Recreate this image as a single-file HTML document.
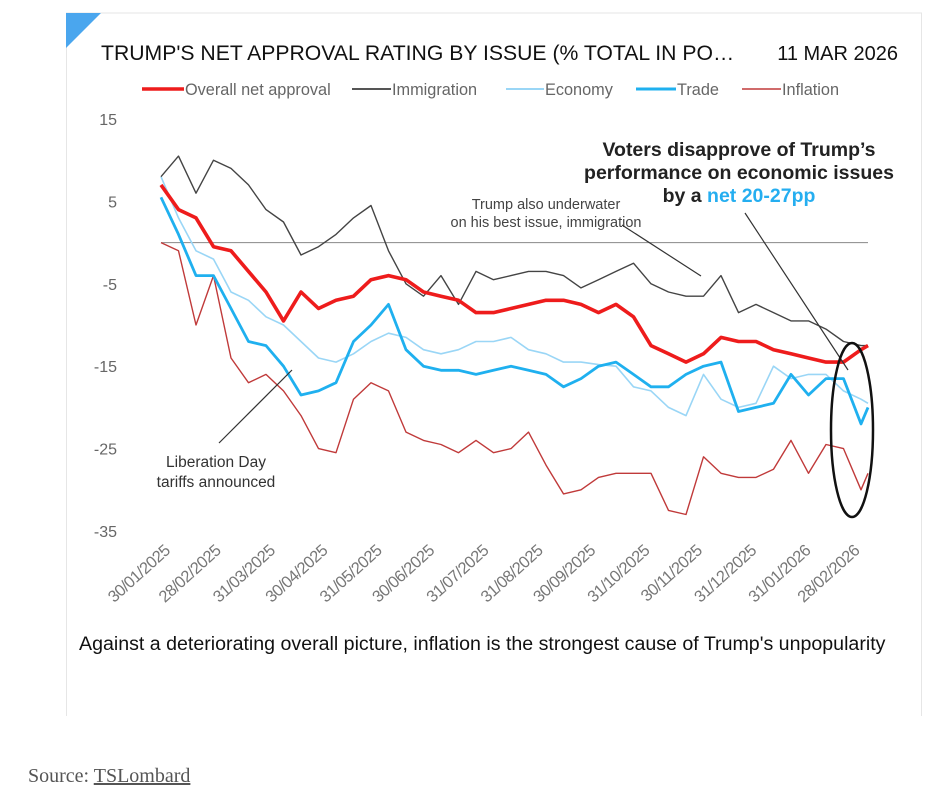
<!DOCTYPE html>
<html><head><meta charset="utf-8"><style>
body{margin:0;background:#fff;width:952px;height:792px;overflow:hidden;font-family:"Liberation Sans",sans-serif;}
</style></head><body>
<svg width="952" height="792" viewBox="0 0 952 792">
<line x1="66" y1="13" x2="922" y2="13" stroke="#e6e6e6"/>
<line x1="66.5" y1="13" x2="66.5" y2="716" stroke="#e6e6e6"/>
<line x1="921.5" y1="13" x2="921.5" y2="716" stroke="#e6e6e6"/>
<polygon points="66,13 101,13 66,48" fill="#4aa6ee"/>
<text x="101" y="60" font-size="21.2" fill="#111">TRUMP'S NET APPROVAL RATING BY ISSUE (% TOTAL IN PO…</text>
<text x="898" y="60" font-size="20" fill="#111" text-anchor="end">11 MAR 2026</text>
<g font-size="16.3" fill="#666">
<line x1="142" y1="89" x2="184" y2="89" stroke="#ee1c1c" stroke-width="3.5"/>
<text x="185" y="95">Overall net approval</text>
<line x1="352" y1="89" x2="391" y2="89" stroke="#555" stroke-width="2"/>
<text x="392" y="95">Immigration</text>
<line x1="506" y1="89" x2="544" y2="89" stroke="#9ad6f6" stroke-width="2"/>
<text x="545" y="95">Economy</text>
<line x1="636" y1="89" x2="676" y2="89" stroke="#1fb0ef" stroke-width="3"/>
<text x="677" y="95">Trade</text>
<line x1="742" y1="89" x2="781" y2="89" stroke="#c03a3a" stroke-width="1.6"/>
<text x="782" y="95">Inflation</text>
</g>
<g id="yaxis" font-size="16" fill="#666" text-anchor="end"></g>
<g id="xaxis" font-size="16.5" fill="#777"></g>
<line id="zeroline" stroke="#888" stroke-width="1"/>
<g id="series"></g>
<g>
<text x="546" y="209" font-size="14.5" fill="#444" text-anchor="middle">Trump also underwater</text>
<text x="546" y="227" font-size="14.5" fill="#444" text-anchor="middle">on his best issue, immigration</text>
<line x1="622" y1="225" x2="701" y2="276" stroke="#333" stroke-width="1.2"/>
<text x="739" y="156" font-size="19.5" font-weight="bold" fill="#222" text-anchor="middle">Voters disapprove of Trump’s</text>
<text x="739" y="179" font-size="19.5" font-weight="bold" fill="#222" text-anchor="middle">performance on economic issues</text>
<text x="739" y="202" font-size="19.5" font-weight="bold" fill="#222" text-anchor="middle">by a <tspan fill="#25aef0">net 20-27pp</tspan></text>
<line x1="745" y1="213" x2="848" y2="370" stroke="#333" stroke-width="1.2"/>
<ellipse cx="852" cy="430" rx="21" ry="87" fill="none" stroke="#111" stroke-width="2.5"/>
<text x="216" y="467" font-size="15.5" fill="#333" text-anchor="middle">Liberation Day</text>
<text x="216" y="487" font-size="15.5" fill="#333" text-anchor="middle">tariffs announced</text>
<line x1="219" y1="443" x2="292" y2="370" stroke="#333" stroke-width="1.2"/>
</g>
<text x="79" y="650" font-size="19.6" fill="#111">Against a deteriorating overall picture, inflation is the strongest cause of Trump's unpopularity</text>
<text x="28" y="782" font-size="20" fill="#555" font-family="Liberation Serif, serif">Source: <tspan text-decoration="underline">TSLombard</tspan></text>
</svg>
<script>
const days = [0,10,20,30,40,50,60,70,80,90,100,110,120,130,140,150,160,170,180,190,200,210,220,230,240,250,260,270,280,290,300,310,320,330,340,350,360,370,380,390,400,404];
const overall = [7,4,3,-0.5,-1,-3.5,-6,-9.5,-6,-8,-7,-6.5,-4.5,-4,-4.5,-6,-6.5,-7,-8.5,-8.5,-8,-7.5,-7,-7,-7.5,-8.5,-7.5,-9,-12.5,-13.5,-14.5,-13.5,-11.5,-12,-12,-13,-13.5,-14,-14.5,-14.5,-13,-12.5];
const immigration = [8,10.5,6,10,9,7,4,2.5,-1.5,-0.5,1,3,4.5,-1,-5,-6.5,-4,-7.5,-3.5,-4.5,-4,-3.5,-3.5,-4,-5.5,-4.5,-3.5,-2.5,-5,-6,-6.5,-6.5,-4,-8.5,-7.5,-8.5,-9.5,-9.5,-10.5,-12,-12.5,-12.5];
const economy = [8,3,-1,-2,-6,-7,-9,-10,-12,-14,-14.5,-13.5,-12,-11,-11.5,-13,-13.5,-13,-12,-12,-11.5,-13,-13.5,-14.5,-14.5,-14.8,-15,-17.5,-18,-20,-21,-16,-19,-20,-19.5,-15,-16.5,-16,-16,-18,-19,-19.5];
const trade = [5.5,1,-4,-4,-8,-12,-12.5,-15,-18.5,-18,-17,-12,-10,-7.5,-13,-15,-15.5,-15.5,-16,-15.5,-15,-15.5,-16,-17.5,-16.5,-15,-14.5,-16,-17.5,-17.5,-16,-15,-14.5,-20.5,-20,-19.5,-16,-18.5,-16.5,-16.5,-22,-20];
const inflation = [0,-1,-10,-4,-14,-17,-16,-18,-21,-25,-25.5,-19,-17,-18,-23,-24,-24.5,-25.5,-24,-25.5,-25,-23,-27,-30.5,-30,-28.5,-28,-28,-28,-32.5,-33,-26,-28,-28.5,-28.5,-27.5,-24,-28,-24.5,-25,-30,-28];
const yTicks = [15,5,-5,-15,-25,-35];
const xTickDays = [0,29,60,90,121,151,182,213,243,274,304,335,366,394];
const xTickLabels = ["30/01/2025","28/02/2025","31/03/2025","30/04/2025","31/05/2025","30/06/2025","31/07/2025","31/08/2025","30/09/2025","31/10/2025","30/11/2025","31/12/2025","31/01/2026","28/02/2026"];

const NS="http://www.w3.org/2000/svg";
const xS = d => 161 + d*(707/404);
const yS = v => 119 + (15 - v)*(412/50);

const ya=document.getElementById('yaxis');
yTicks.forEach(t=>{const e=document.createElementNS(NS,'text');e.setAttribute('x',117);e.setAttribute('y',yS(t)+6);e.textContent=t;


ya.appendChild(e);});
const xa=document.getElementById('xaxis');
xTickDays.forEach((d,i)=>{const e=document.createElementNS(NS,'text');const x=xS(d)+10,y=552;
e.setAttribute('transform',`translate(${x},${y}) rotate(-42)`);e.setAttribute('text-anchor','end');e.setAttribute('letter-spacing','-0.6');e.textContent=xTickLabels[i];


xa.appendChild(e);});
const z=document.getElementById('zeroline');z.setAttribute('x1',xS(0));z.setAttribute('x2',xS(404));z.setAttribute('y1',yS(0));z.setAttribute('y2',yS(0));

const sg=document.getElementById('series');
function line(vals,color,w,name){const p=document.createElementNS(NS,'polyline');
p.setAttribute('points',vals.map((v,i)=>xS(days[i]).toFixed(1)+','+yS(v).toFixed(1)).join(' '));
p.setAttribute('fill','none');p.setAttribute('stroke',color);p.setAttribute('stroke-width',w);p.setAttribute('stroke-linejoin','round');


sg.appendChild(p);}
line(inflation,'#c03a3a',1.4,'inflation-line');
line(economy,'#9ad6f6',1.6,'economy-line');
line(immigration,'#444',1.4,'immigration-line');
line(trade,'#1fb0ef',2.8,'trade-line');
line(overall,'#ee1c1c',3.6,'overall-line');
</script>
</body></html>
